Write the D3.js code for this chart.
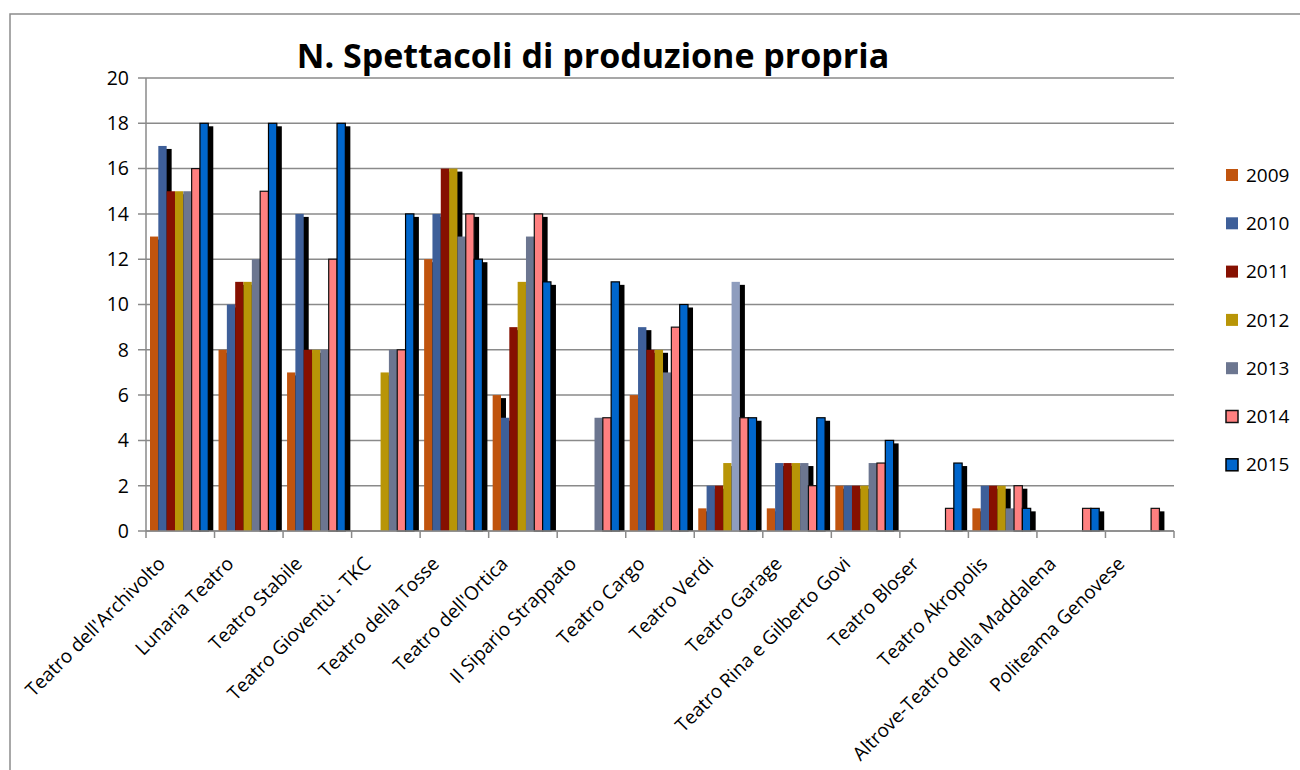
<!DOCTYPE html>
<html>
<head>
<meta charset="utf-8">
<script src="https://cdn.jsdelivr.net/npm/d3@7"></script>
<style>
  body { margin: 0; background: #fff; }
  svg { display: block; font-family: "Open Sans", sans-serif; }
</style>
</head>
<body>
<svg id="chart" width="1300" height="770"></svg>
<script>
// data
const teatri = ["Teatro dell'Archivolto", "Lunaria Teatro", "Teatro Stabile", "Teatro Gioventù - TKC",
  "Teatro della Tosse", "Teatro dell'Ortica", "Il Sipario Strappato", "Teatro Cargo", "Teatro Verdi",
  "Teatro Garage", "Teatro Rina e Gilberto Govi", "Teatro Bloser", "Teatro Akropolis",
  "Altrove-Teatro della Maddalena", "Politeama Genovese"];
const anni = ["2009", "2010", "2011", "2012", "2013", "2014", "2015"];
const v2009 = [13, 8, 7, 0, 12, 6, 0, 6, 1, 1, 2, 0, 1, 0, 0];
const v2010 = [17, 10, 14, 0, 14, 5, 0, 9, 2, 3, 2, 0, 2, 0, 0];
const v2011 = [15, 11, 8, 0, 16, 9, 0, 8, 2, 3, 2, 0, 2, 0, 0];
const v2012 = [15, 11, 8, 7, 16, 11, 0, 8, 3, 3, 2, 0, 2, 0, 0];
const v2013 = [15, 12, 8, 8, 13, 13, 5, 7, 11, 3, 3, 0, 1, 0, 0];
const v2014 = [16, 15, 12, 8, 14, 14, 5, 9, 5, 2, 3, 1, 2, 1, 1];
const v2015 = [18, 18, 18, 14, 12, 11, 11, 10, 5, 5, 4, 3, 1, 1, 0];
const yTicks = [0, 2, 4, 6, 8, 10, 12, 14, 16, 18, 20];

const serie = [v2009, v2010, v2011, v2012, v2013, v2014, v2015];
const colori = ["#c0540e", "#3e5f99", "#861001", "#b89507", "#6c7690", "#ff8080", "#0066cc"];
const bordo = [null, null, null, null, null, "#111", "#000"];

const svg = d3.select("#chart");
const pL = 146, pR = 1174, pT = 78, pB = 531;

// outer frame
svg.append("rect")
  .attr("x", 10).attr("y", 14).attr("width", 1320).attr("height", 800)
  .attr("fill", "none").attr("stroke", "#8c8c8c").attr("stroke-width", 1.5);

const x0 = d3.scaleBand().domain(teatri).range([pL, pR]).padding(0);
const x1 = d3.scaleBand().domain(anni).range([0, x0.bandwidth()])
  .paddingInner(0).paddingOuter(0.615).align(0.39);
const y = d3.scaleLinear().domain([0, 20]).range([pB, pT]);

// gridlines
svg.append("g").selectAll("line").data(yTicks).join("line")
  .attr("x1", pL - 8).attr("x2", pR)
  .attr("y1", d => y(d)).attr("y2", d => y(d))
  .attr("stroke", "#8a8a8a").attr("stroke-width", 1.5);

// y labels
svg.append("g").selectAll("text").data(yTicks).join("text")
  .attr("x", 129).attr("y", d => y(d)).attr("dy", "0.35em")
  .attr("text-anchor", "end").attr("font-size", 19.5).attr("fill", "#000")
  .text(d => d);

// bars, series by series: shadow then bar
serie.forEach((vals, si) => {
  const g = svg.append("g");
  const dati = vals.map((v, i) => ({t: teatri[i], v: v, i: i})).filter(d => d.v > 0);
  g.selectAll("rect.ombra").data(dati).join("rect")
    .attr("class", "ombra")
    .attr("x", d => x0(d.t) + x1(anni[si]) + 5)
    .attr("y", d => y(d.v) + 3)
    .attr("width", x1.bandwidth())
    .attr("height", d => pB - y(d.v) - 3)
    .attr("fill", "#000");
  g.selectAll("rect.barra").data(dati).join("rect")
    .attr("class", "barra")
    .attr("x", d => x0(d.t) + x1(anni[si]))
    .attr("y", d => y(d.v))
    .attr("width", x1.bandwidth())
    .attr("height", d => pB - y(d.v))
    .attr("fill", d => (si === 4 && d.t === "Teatro Verdi") ? "#8e9dbe" : colori[si])
    .attr("stroke", bordo[si] || "none")
    .attr("stroke-width", bordo[si] ? 1.2 : 0);
});

// axes lines
svg.append("line").attr("x1", pL).attr("x2", pL).attr("y1", pT).attr("y2", pB)
  .attr("stroke", "#8a8a8a").attr("stroke-width", 1.5);
svg.append("line").attr("x1", pL).attr("x2", pR).attr("y1", pB).attr("y2", pB)
  .attr("stroke", "#8a8a8a").attr("stroke-width", 1.5);
const confini = teatri.map(t => x0(t)).concat([pR]);
svg.append("g").selectAll("line").data(confini).join("line")
  .attr("x1", d => d).attr("x2", d => d).attr("y1", pB).attr("y2", pB + 7)
  .attr("stroke", "#8a8a8a").attr("stroke-width", 1.5);

// category labels
svg.append("g").selectAll("text").data(teatri).join("text")
  .attr("transform", d => `translate(${x0(d) + x0.bandwidth() / 2 - 14},${pB + 34}) rotate(-45)`)
  .attr("text-anchor", "end").attr("font-size", 19).attr("fill", "#000")
  .text(d => d);

// title
svg.append("text")
  .attr("x", 593).attr("y", 68).attr("text-anchor", "middle")
  .attr("font-size", 34).attr("font-weight", "bold").attr("fill", "#000")
  .text("N. Spettacoli di produzione propria");

// legend
const leg = svg.append("g").selectAll("g").data(anni).join("g")
  .attr("transform", (d, i) => `translate(1226,${175 + i * 48.3})`);
leg.append("rect")
  .attr("x", 0).attr("y", -6).attr("width", 12).attr("height", 12)
  .attr("fill", (d, i) => colori[i])
  .attr("stroke", (d, i) => bordo[i] || "none").attr("stroke-width", 1.5);
leg.append("text")
  .attr("x", 20).attr("y", 0).attr("dy", "0.35em")
  .attr("font-size", 19).attr("fill", "#000")
  .text(d => d);
</script>
</body>
</html>
